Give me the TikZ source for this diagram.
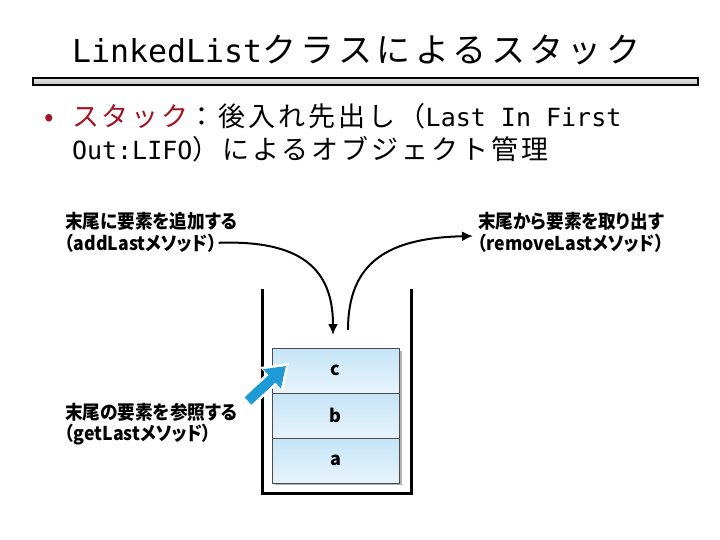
\documentclass[tikz,border=0pt]{standalone}
\usepackage{fontspec}
\setmainfont{Noto Sans CJK JP}
\newfontfamily\jp{Noto Sans CJK JP}
\newfontfamily\jpp[RawFeature=+palt, FakeStretch=0.93]{Noto Sans CJK JP}
\newfontfamily\jpt[LetterSpace=13]{Noto Sans CJK JP}
\newfontfamily\jpb[LetterSpace=11]{Noto Sans CJK JP}
\newfontfamily\mono{DejaVu Sans Mono}
\usetikzlibrary{arrows.meta}
\definecolor{stackred}{RGB}{160,22,34}
\definecolor{cellblue}{RGB}{196,228,247}
\definecolor{celllight}{RGB}{232,244,252}
\definecolor{arrowblue}{RGB}{30,155,215}
\tikzset{
  txt/.style={anchor=base west, inner sep=0pt, outer sep=0pt},
  lbl/.style={txt, font=\fontsize{19}{21}\jpp\bfseries},
  wall/.style={line width=3pt, line cap=rect},
  cell/.style={draw=black!70, line width=0.8pt, top color=cellblue, bottom color=celllight, minimum width=127pt, minimum height=45pt, inner sep=0pt, font=\fontsize{18}{21}\jp\bfseries},
  flow/.style={line width=2pt, -{Latex[length=11pt,width=10pt]}},
}
\begin{document}
\begin{tikzpicture}[x=1pt,y=-1pt]
\useasboundingbox (0,0) rectangle (720,540);
% title
\node[txt] (title) at (72,63) {\fontsize{31.6}{36}\mono LinkedList\fontsize{34}{38}\jpt クラスによるスタック};
\draw[line width=1.3pt, top color=black!10, bottom color=black!25] (33,78) rectangle (698,85);
% bullet text
\node[txt, text=stackred] (bul) at (44,127) {\fontsize{28}{30}\jp •};
\node[txt] (line1) at (72,127) {\fontsize{27}{30}\jpb \textcolor{stackred}{スタック}：後入れ先出し（\fontsize{25}{30}\mono Last In First};
\node[txt] (line2) at (72,160) {\fontsize{25}{30}\mono Out:LIFO\fontsize{27}{30}\jpb ）によるオブジェクト管理};
% container
\draw[wall] (262,290) -- (262,493) -- (411,493) -- (411,290);
% stack cells with shadow
\fill[black!30] (275,351) rectangle (402,485);
\node[cell] (c) at (335.5,370.5) {c};
\node[cell] (b) at (335.5,415.5) {b};
\node[cell] (a) at (335.5,460.5) {a};
% labels
\node[lbl] (add1) at (65,229) {末尾に要素を追加する};
\node[lbl] (add2) at (65,250) {（addLastメソッド）};
\node[lbl] (rem1) at (478,229) {末尾から要素を取り出す};
\node[lbl] (rem2) at (478,250) {（removeLastメソッド）};
\node[lbl] (get1) at (65,419) {末尾の要素を参照する};
\node[lbl] (get2) at (65,440) {（getLastメソッド）};
% connectors
\coordinate (addS) at ([xshift=2pt]add2.east);
\coordinate (inT) at (333,335);
\coordinate (outS) at (348,330);
\coordinate (outT) at (473,236);
\draw[flow] (addS) .. controls (300,240) and (333,268) .. (inT);
\draw[flow] (outS) .. controls (348,262) and (388,238) .. (outT);
% blue arrow
\coordinate (gS) at (248,401);
\coordinate (gT) at (286,366);
\draw[white, line width=15pt, -{Triangle[length=24pt,width=32pt]}] (246,403) -- (289,363);
\draw[arrowblue, line width=10pt, -{Triangle[length=19pt,width=25pt]}] (gS) -- (gT);
\end{tikzpicture}
\end{document}
